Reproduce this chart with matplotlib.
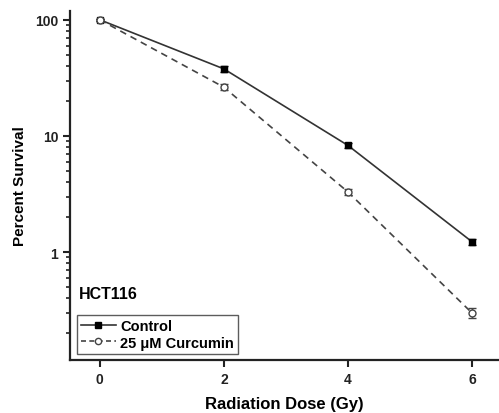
import matplotlib
matplotlib.use("Agg")
import matplotlib.pyplot as plt
from matplotlib.lines import Line2D
from matplotlib.ticker import LogLocator, FixedLocator, NullFormatter

plt.rcParams['font.family'] = ['Liberation Sans', 'DejaVu Sans']
plt.rcParams['font.weight'] = 'bold'

dose = [0, 2, 4, 6]
control = [100, 37.8, 8.3, 1.23]
control_err = [2.0, 2.0, 0.35, 0.07]
curcumin = [100, 26.3, 3.3, 0.30]
curcumin_err = [2.0, 1.5, 0.2, 0.03]

fig = plt.figure(figsize=(4.99, 4.14), dpi=100)
ax = fig.add_axes([70 / 499, 53 / 414, 428 / 499, 349 / 414])

ax.errorbar(dose, control, yerr=control_err, color='#333333', lw=1.2, ls='-',
            marker='s', ms=5, mfc='black', mec='black', capsize=3, ecolor='black',
            elinewidth=1)
ax.errorbar(dose, curcumin, yerr=curcumin_err, color='#444444', lw=1.2, ls=(0, (4, 3)),
            marker='o', ms=5, mfc='white', mec='#444444', capsize=3, ecolor='#444444',
            elinewidth=1)

ax.set_yscale('log')
ax.set_xlim(-0.48, 6.42)
ax.set_ylim(0.118, 119)
ax.xaxis.set_major_locator(FixedLocator([0, 2, 4, 6]))
ax.yaxis.set_major_locator(FixedLocator([1, 10, 100]))
ax.set_yticklabels(['1', '10', '100'])
ax.yaxis.set_minor_locator(LogLocator(base=10, subs=range(2, 10)))
ax.yaxis.set_minor_formatter(NullFormatter())

for s in ['top', 'right']:
    ax.spines[s].set_visible(False)
for s in ['left', 'bottom']:
    ax.spines[s].set_linewidth(1.6)
    ax.spines[s].set_color('#222222')

ax.tick_params(axis='both', which='major', direction='out', length=5, width=1.5,
               labelsize=10, colors='#222222')
ax.tick_params(axis='y', which='minor', direction='out', length=3, width=1.2, colors='#222222')
for lab in ax.get_xticklabels() + ax.get_yticklabels():
    lab.set_fontweight('bold')

ax.set_xlabel('Radiation Dose (Gy)', fontsize=12, fontweight='bold', labelpad=7)
ax.set_ylabel('Percent Survival', fontsize=11, fontweight='bold', labelpad=6)

ax.text(0.02, 0.19, 'HCT116', transform=ax.transAxes, fontsize=11.5, fontweight='bold',
        va='center')

handles = [
    Line2D([], [], color='#333333', lw=1.2, ls='-', marker='s', ms=4.5,
           mfc='black', mec='black'),
    Line2D([], [], color='#444444', lw=1.2, ls=(0, (3, 2)), marker='o', ms=4.5,
           mfc='white', mec='#444444'),
]
leg = ax.legend(handles, ['Control', '25 \u03bcM Curcumin'], loc='lower left',
                bbox_to_anchor=(0.005, 0.005), fontsize=10.5, frameon=True,
                fancybox=False, edgecolor='#333333', handlelength=2.4, handletextpad=0.3,
                borderpad=0.3, labelspacing=0.15, borderaxespad=0.3)
leg.get_frame().set_linewidth(1.0)
for t in leg.get_texts():
    t.set_fontweight('bold')

fig.savefig('out.png', dpi=100)
